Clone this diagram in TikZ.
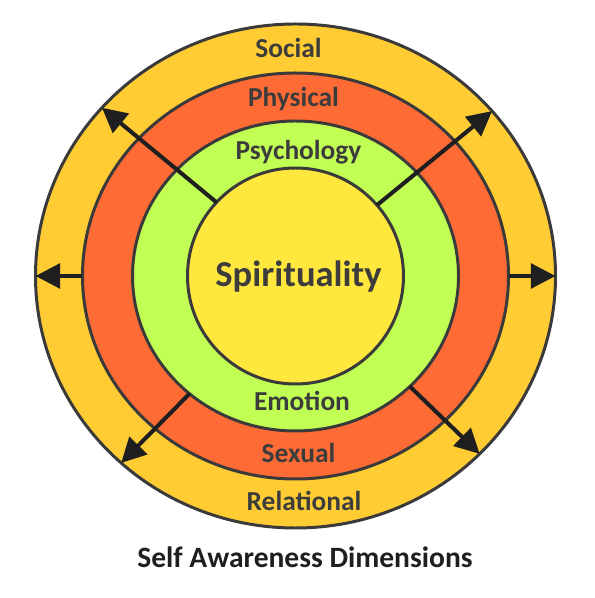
\documentclass[tikz,border=0pt]{standalone}
\usepackage{fontspec}
\setmainfont{Carlito}
\usetikzlibrary{shapes.geometric,arrows.meta,positioning}
\definecolor{socialyellow}{RGB}{255,204,51}
\definecolor{physicalred}{RGB}{255,107,53}
\definecolor{psychgreen}{RGB}{194,255,84}
\definecolor{spiritgold}{RGB}{255,231,61}
\definecolor{ringline}{RGB}{58,58,58}
\definecolor{labelgray}{RGB}{60,60,60}

\begin{document}
\begin{tikzpicture}[
    ring/.style={ellipse, draw=ringline, line width=1.7pt, inner sep=0pt, outer sep=0pt},
    ringlabel/.style={anchor=base, inner sep=0pt, text=labelgray, font=\bfseries\fontsize{15.6}{18}\selectfont},
    spoke/.style={-{Triangle[length=14pt,width=14pt]}, line width=2.3pt, black!88}
]
% Page size
\useasboundingbox (-5.91,-6.44) rectangle (5.97,5.52);

% Draw rings, outside in
\node[ring, fill=socialyellow, minimum width=10.4cm, minimum height=10.08cm] (social) at (0,0) {};
\node[ring, fill=physicalred, minimum width=8.52cm, minimum height=8.12cm] (physical) at (0,0) {};
\node[ring, fill=psychgreen, minimum width=6.52cm, minimum height=6.2cm] (psychology) at (0,0) {};
\node[ring, fill=spiritgold, minimum width=4.32cm, minimum height=4.32cm] (spirit) at (0,0) {};

% Ring labels
\foreach \nm/\txt/\x/\y in {social/Social/-0.14/4.36, physical/Physical/-0.04/3.38,
    psychology/Psychology/0.06/2.32, emotion/Emotion/0.13/-2.70,
    sexual/Sexual/0.06/-3.74, relational/Relational/0.17/-4.68} {
    \node[ringlabel] (lbl\nm) at (\x,\y) {\txt};
}
\node[ringlabel, font=\bfseries\fontsize{20.8}{24}\selectfont] (lblspirit) at (0.06,-0.22) {Spirituality};

% Outward arrows
\draw[spoke] (spirit.137) -- (social.139);
\draw[spoke] (spirit.41) -- (social.40);
\draw[spoke] (physical.180) -- (social.180);
\draw[spoke] (physical.0) -- (social.0);
\draw[spoke] (psychology.-132) -- (social.-133);
\draw[spoke] (psychology.-44) -- (social.-44);

% Caption
\node[anchor=base, inner sep=0pt, text=black!88, font=\bfseries\fontsize{16.8}{20}\selectfont] (title) at (0.19,-5.82) {Self Awareness Dimensions};
\end{tikzpicture}
\end{document}
